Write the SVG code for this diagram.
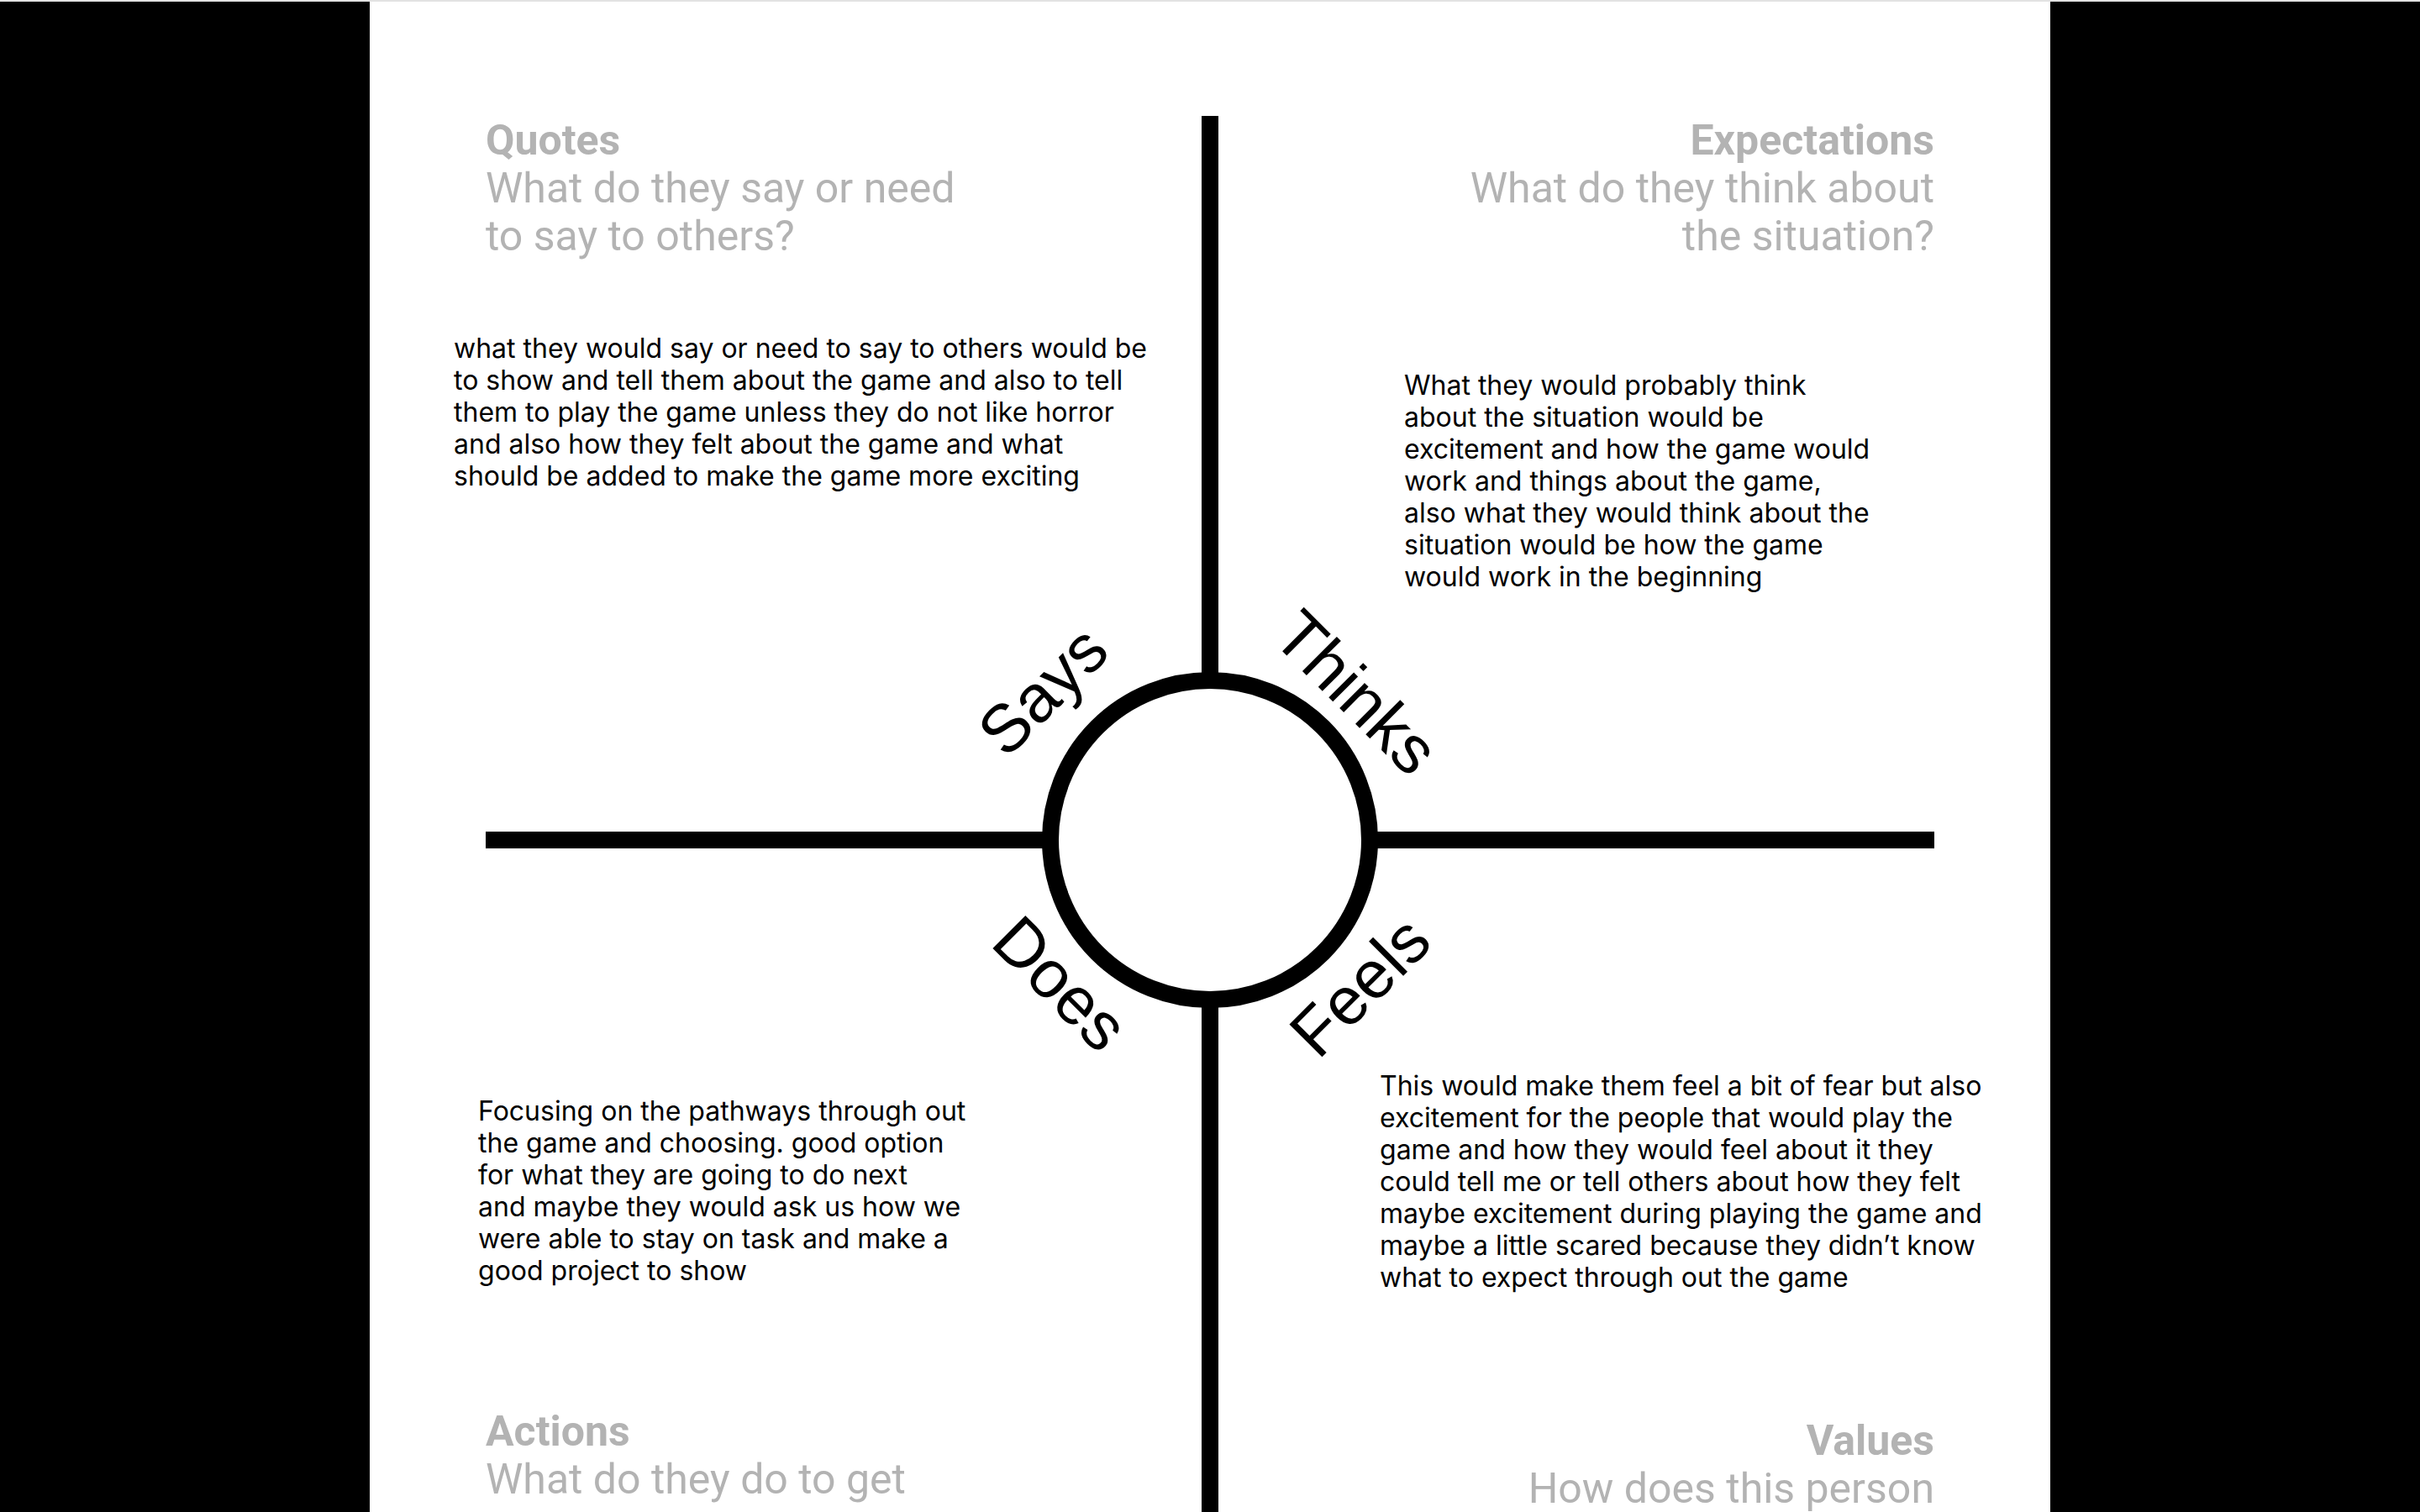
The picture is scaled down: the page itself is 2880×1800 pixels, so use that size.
<svg xmlns="http://www.w3.org/2000/svg" width="2880" height="1800" viewBox="0 0 2880 1800">
  <style>
    .hdr { font-family: Roboto, "Liberation Sans", Arial, sans-serif; font-size: 50px; fill: #b3b3b3; }
    .hdr-b { font-weight: 700; }
    .body { font-family: Inter, "Liberation Sans", Arial, sans-serif; font-size: 32px; fill: #000000; }
    .lbl { font-family: "Liberation Sans", Arial, sans-serif; font-size: 80px; fill: #000000; text-anchor: middle; }
    .axis { stroke: #000000; stroke-width: 20; fill: none; }
  </style>
  <rect x="0" y="0" width="2880" height="1800" fill="#000000"/>
  <rect x="440" y="0" width="2000" height="1800" fill="#ffffff"/>
  <rect x="0" y="0" width="2880" height="2" fill="#e2e2e2"/>

  <g id="connectors">
    <line class="axis" x1="1440" y1="138" x2="1440" y2="810"/>
    <line class="axis" x1="1440" y1="1190" x2="1440" y2="1800"/>
    <line class="axis" x1="578" y1="1000" x2="1250" y2="1000"/>
    <line class="axis" x1="1630" y1="1000" x2="2302" y2="1000"/>
  </g>

  <g id="center">
    <circle class="axis" cx="1440" cy="1000" r="190" fill="#ffffff"/>
  </g>

  <g id="label-says"><text class="lbl" x="1425" y="761" transform="rotate(-45 1440 1000)">Says</text></g>
  <g id="label-thinks"><text class="lbl" x="1439" y="780" transform="rotate(45 1440 1000)" font-size="82">Thinks</text></g>
  <g id="label-does"><text class="lbl" x="1435" y="1274" transform="rotate(45 1440 1000)">Does</text></g>
  <g id="label-feels"><text class="lbl" x="1443" y="1277" transform="rotate(-45 1440 1000)">Feels</text></g>

  <g id="quotes-header">
    <text class="hdr hdr-b" x="578" y="184">Quotes</text>
    <text class="hdr" x="578" y="241">What do they say or need</text>
    <text class="hdr" x="578" y="298">to say to others?</text>
  </g>
  <g id="expectations-header">
    <text class="hdr hdr-b" x="2302" y="184" text-anchor="end">Expectations</text>
    <text class="hdr" x="2302" y="241" text-anchor="end">What do they think about</text>
    <text class="hdr" x="2302" y="298" text-anchor="end">the situation?</text>
  </g>
  <g id="actions-header">
    <text class="hdr hdr-b" x="578" y="1721">Actions</text>
    <text class="hdr" x="578" y="1778">What do they do to get</text>
  </g>
  <g id="values-header">
    <text class="hdr hdr-b" x="2302" y="1732" text-anchor="end">Values</text>
    <text class="hdr" x="2302" y="1789" text-anchor="end">How does this person</text>
  </g>

  <g id="says-text">
    <text class="body" x="540" y="426">what they would say or need to say to others would be</text>
    <text class="body" x="540" y="464">to show and tell them about the game and also to tell</text>
    <text class="body" x="540" y="502">them to play the game unless they do not like horror</text>
    <text class="body" x="540" y="540">and also how they felt about the game and what</text>
    <text class="body" x="540" y="578">should be added to make the game more exciting</text>
  </g>
  <g id="thinks-text">
    <text class="body" x="1671" y="470">What they would probably think</text>
    <text class="body" x="1671" y="508">about the situation would be</text>
    <text class="body" x="1671" y="546">excitement and how the game would</text>
    <text class="body" x="1671" y="584">work and things about the game,</text>
    <text class="body" x="1671" y="622">also what they would think about the</text>
    <text class="body" x="1671" y="660">situation would be how the game</text>
    <text class="body" x="1671" y="698">would work in the beginning</text>
  </g>
  <g id="does-text">
    <text class="body" x="569" y="1334">Focusing on the pathways through out</text>
    <text class="body" x="569" y="1372">the game and choosing. good option</text>
    <text class="body" x="569" y="1410">for what they are going to do next</text>
    <text class="body" x="569" y="1448">and maybe they would ask us how we</text>
    <text class="body" x="569" y="1486">were able to stay on task and make a</text>
    <text class="body" x="569" y="1524">good project to show</text>
  </g>
  <g id="feels-text">
    <text class="body" x="1642" y="1304">This would make them feel a bit of fear but also</text>
    <text class="body" x="1642" y="1342">excitement for the people that would play the</text>
    <text class="body" x="1642" y="1380">game and how they would feel about it they</text>
    <text class="body" x="1642" y="1418">could tell me or tell others about how they felt</text>
    <text class="body" x="1642" y="1456">maybe excitement during playing the game and</text>
    <text class="body" x="1642" y="1494">maybe a little scared because they didn’t know</text>
    <text class="body" x="1642" y="1532">what to expect through out the game</text>
  </g>
</svg>
